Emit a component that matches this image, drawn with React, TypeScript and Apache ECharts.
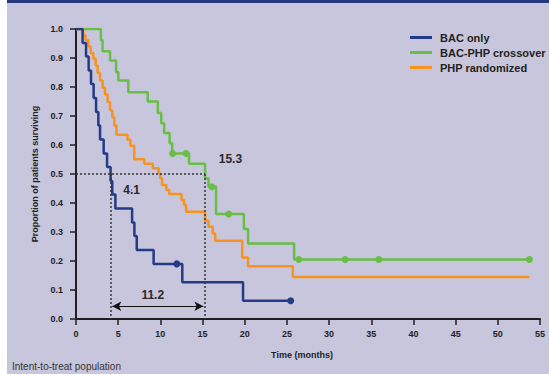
import React, { useEffect, useRef } from "react";
import * as echarts from "echarts";

// ---- Data ----
const seriesNames = ["BAC only", "BAC-PHP crossover", "PHP randomized"];

const bacTimes = [0, 0.78, 1.19, 1.5, 1.78, 2.09, 2.38, 2.65, 2.85, 3.28, 3.68, 4.1, 4.3, 4.67, 6.65, 6.92, 7.2, 9.2, 12.6, 19.8, 25.45];
const bacSurv = [1, 0.952, 0.905, 0.857, 0.81, 0.762, 0.714, 0.667, 0.619, 0.571, 0.524, 0.476, 0.429, 0.381, 0.333, 0.286, 0.238, 0.19, 0.127, 0.063, 0.063];
const bacCensorTimes = [11.95, 25.45];
const bacCensorSurv = [0.19, 0.063];

const crossTimes = [0, 2.95, 3.15, 4.04, 4.75, 5.02, 6.2, 8.5, 9.7, 10.1, 10.45, 11.1, 11.4, 13.4, 15.3, 15.7, 16.6, 19.9, 20.4, 25.85, 53.75];
const crossSurv = [1, 0.961, 0.923, 0.891, 0.851, 0.822, 0.782, 0.75, 0.71, 0.675, 0.641, 0.606, 0.571, 0.535, 0.485, 0.456, 0.362, 0.31, 0.26, 0.205, 0.205];
const crossCensorTimes = [11.45, 13.05, 16.1, 18.1, 26.4, 31.9, 35.9, 53.75];
const crossCensorSurv = [0.571, 0.571, 0.456, 0.362, 0.205, 0.205, 0.205, 0.205];

const phpTimes = [0, 0.87, 1.14, 1.46, 1.74, 2.05, 2.33, 2.57, 2.85, 3.16, 3.44, 3.75, 4.04, 4.31, 4.55, 4.8, 6.1, 6.45, 6.9, 8.1, 9.1, 9.8, 9.98, 10.2, 10.7, 11.05, 12.5, 12.8, 13.05, 15.3, 15.7, 16.2, 16.5, 19.7, 20.4, 25.7, 53.75];
const phpSurv = [1, 0.978, 0.961, 0.94, 0.917, 0.897, 0.874, 0.848, 0.822, 0.797, 0.774, 0.748, 0.719, 0.696, 0.667, 0.635, 0.618, 0.597, 0.551, 0.535, 0.52, 0.502, 0.485, 0.462, 0.445, 0.431, 0.41, 0.393, 0.37, 0.339, 0.318, 0.295, 0.27, 0.212, 0.182, 0.145, 0.145];

const medianBac = 4.1;
const medianCross = 15.3;
const medianDiffLabel = "11.2";

const annotationX = [6.6, 18.3, 9.1];
const annotationY = [0.445, 0.552, 0.082];
const annotationText = ["4.1", "15.3", medianDiffLabel];

const xTicks = { min: 0, max: 55, interval: 5 };
const yTicks = { min: 0, max: 1, interval: 0.1 };

const colors = ["#253b86", "#68bf45", "#f7931e"];
const FONT = "'Liberation Sans', Arial, Helvetica, sans-serif";
const TEXT = "#231f20";

const zip = (a: number[], b: number[]) => a.map((v, i) => [v, b[i]]);

export default function App() {
  const ref = useRef<HTMLDivElement>(null);
  useEffect(() => {
    document.body.style.margin = "0";
    const chart = echarts.init(ref.current!, null, { renderer: "svg" });
    const lineSeries = (name: string, t: number[], s: number[], c: string) => ({
      name,
      type: "line",
      step: "end",
      data: zip(t, s),
      showSymbol: false,
      symbol: "none",
      lineStyle: { color: c, width: 2.5 },
      itemStyle: { color: c },
      z: 3,
    });
    const censorSeries = (name: string, t: number[], s: number[], c: string) => ({
      name,
      type: "scatter",
      data: zip(t, s),
      symbol: "circle",
      symbolSize: 7,
      itemStyle: { color: c, opacity: 1 },
      z: 4,
    });
    chart.setOption({
      animation: false,
      textStyle: { fontFamily: FONT },
      grid: { left: 76, right: 9, top: 29, bottom: 55 },
      legend: {
        orient: "vertical",
        left: 405,
        top: 27,
        itemWidth: 22,
        itemHeight: 3,
        itemGap: 4,
        icon: "rect",
        data: seriesNames,
        textStyle: { fontSize: 11, fontWeight: "bold", color: TEXT, fontFamily: FONT, padding: [0, 0, 0, 3] },
      },
      xAxis: {
        type: "value",
        min: xTicks.min,
        max: xTicks.max,
        interval: xTicks.interval,
        name: "Time (months)",
        nameLocation: "middle",
        nameGap: 31,
        nameTextStyle: { fontSize: 9, fontWeight: "bold", color: TEXT, fontFamily: FONT, padding: [0, 12, 0, 0] },
        axisLine: { lineStyle: { color: TEXT, width: 2 } },
        axisTick: { length: 6, lineStyle: { color: TEXT, width: 1.5 } },
        axisLabel: { fontSize: 9, fontWeight: "bold", color: TEXT, margin: 10, fontFamily: FONT },
        splitLine: { show: false },
      },
      yAxis: {
        type: "value",
        min: yTicks.min,
        max: yTicks.max,
        interval: yTicks.interval,
        name: "Proportion of patients surviving",
        nameLocation: "middle",
        nameGap: 37,
        nameTextStyle: { fontSize: 9, fontWeight: "bold", color: TEXT, fontFamily: FONT },
        axisLine: { show: true, lineStyle: { color: TEXT, width: 2 } },
        axisTick: { show: true, length: 6, lineStyle: { color: TEXT, width: 1.5 } },
        axisLabel: { fontSize: 9, fontWeight: "bold", color: TEXT, margin: 13, fontFamily: FONT, formatter: (v: number) => v.toFixed(1) },
        splitLine: { show: false },
      },
      series: [
        lineSeries(seriesNames[1], crossTimes, crossSurv, colors[1]),
        lineSeries(seriesNames[2], phpTimes, phpSurv, colors[2]),
        lineSeries(seriesNames[0], bacTimes, bacSurv, colors[0]),
        censorSeries("BAC-PHP crossover censored", crossCensorTimes, crossCensorSurv, colors[1]),
        censorSeries("BAC only censored", bacCensorTimes, bacCensorSurv, colors[0]),
        {
          name: "annotations",
          type: "scatter",
          symbolSize: 1,
          itemStyle: { color: "#2a2a2a", opacity: 1 },
          data: annotationX.map((x, i) => [x, annotationY[i], annotationText[i]]),
          label: {
            show: true,
            position: "inside",
            formatter: (p: any) => p.value[2],
            fontSize: 12,
            fontWeight: "bold",
            color: "#2a2a2a",
            opacity: 1,
            textBorderWidth: 0,
            fontFamily: FONT,
          },
          z: 5,
          markLine: {
            silent: true,
            symbol: "none",
            label: { show: false },
            lineStyle: { color: "#333333", type: [2, 2], width: 1.5, opacity: 1 },
            data: [
              [{ coord: [0, 0.5] }, { coord: [medianCross, 0.5] }],
              [{ coord: [medianBac, 0.5] }, { coord: [medianBac, 0] }],
              [{ coord: [medianCross, 0.5] }, { coord: [medianCross, 0] }],
              [
                { coord: [medianBac + 0.2, 0.044], symbol: "arrow", symbolSize: [7, 9], lineStyle: { type: "solid", color: "#111111", width: 1.2 } },
                { coord: [medianCross - 0.2, 0.044], symbol: "arrow", symbolSize: [7, 9] },
              ],
            ],
          },
        },
      ],
    });
    return () => chart.dispose();
  }, []);

  return (
    <div style={{ position: "absolute", left: 0, top: 0, width: 549, height: 374, background: "#ffffff", overflow: "hidden" }}>
      <div style={{ position: "absolute", left: 7, top: 0, width: 542, height: 374, background: "#c8c6dd" }} />
      <div style={{ position: "absolute", left: 7, top: 0, width: 542, height: 3, background: "#26387c" }} />
      <div
        style={{
          position: "absolute",
          left: 12,
          top: 361,
          fontFamily: FONT,
          fontSize: 10,
          color: "#333333",
          lineHeight: "12px",
          whiteSpace: "nowrap",
        }}
      >
        Intent-to-treat population
      </div>
      <div ref={ref} style={{ position: "absolute", left: 0, top: 0, width: 549, height: 374 }} />
    </div>
  );
}
